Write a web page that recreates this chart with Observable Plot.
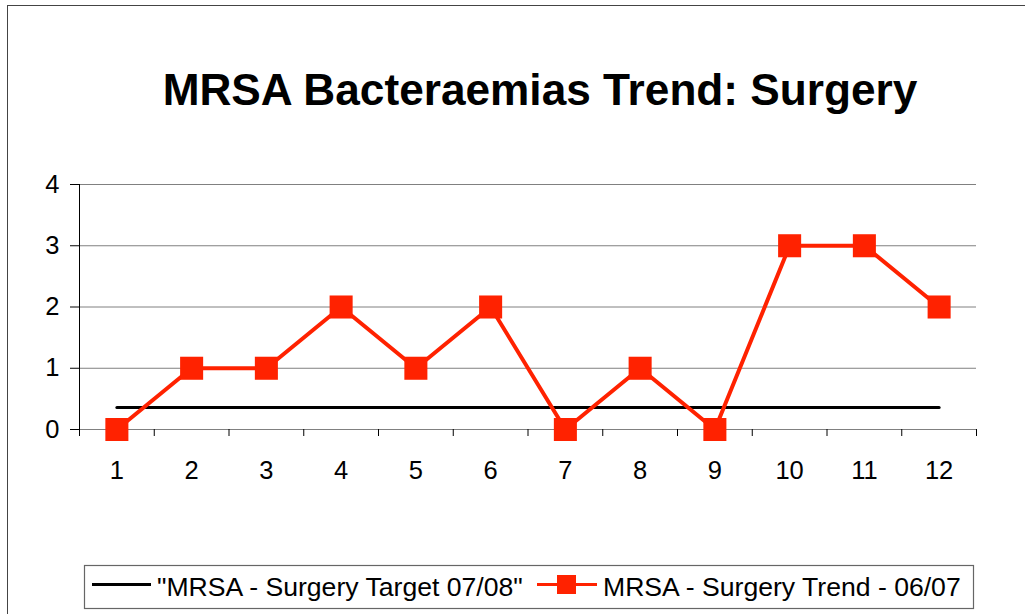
<!DOCTYPE html>
<html><head><meta charset="utf-8">
<script src="https://cdn.jsdelivr.net/npm/d3@7"></script>
<script src="https://cdn.jsdelivr.net/npm/@observablehq/plot@0.6"></script>
<style>
body{margin:0;background:#fff;font-family:"Liberation Sans",Arial,sans-serif;}
#wrap{position:relative;width:1025px;height:614px;overflow:hidden;background:#fff;}
#frame{position:absolute;left:7px;top:5px;width:1040px;height:640px;border:1.5px solid #444;box-sizing:border-box;}
#chart{position:absolute;left:0;top:0;}
#over{position:absolute;left:0;top:0;}
</style></head><body>
<div id="wrap"><div id="frame"></div><div id="chart"></div>
<svg id="over" width="1025" height="614" font-family="Liberation Sans, Arial, sans-serif"></svg>
</div>
<script>
const title = "MRSA Bacteraemias Trend: Surgery";
const months = [1,2,3,4,5,6,7,8,9,10,11,12];
const trend = [0,1,1,2,1,2,0,1,0,3,3,2];
const target = [0.36,0.36,0.36,0.36,0.36,0.36,0.36,0.36,0.36,0.36,0.36,0.36];
const yTicks = [0,1,2,3,4];
const seriesNames = ["\"MRSA - Surgery Target 07/08\"", "MRSA - Surgery Trend - 06/07"];
const RED = "#ff2200";

const trendData = months.map((m,i)=>({m, v: trend[i]}));
const targetData = months.map((m,i)=>({m, v: target[i]}));
const boundaries = months.map(m=>m-0.5).concat([months[months.length-1]+0.5]);

const chart = Plot.plot({
  width: 1025, height: 614,
  marginLeft: 79, marginRight: 49, marginTop: 184, marginBottom: 185,
  style: {fontFamily: "Liberation Sans, Arial, sans-serif", fontSize: "25.5px", background: "transparent", color: "black"},
  x: {type: "linear", domain: [boundaries[0], boundaries[boundaries.length-1]], axis: null},
  y: {domain: [0,4], axis: null},
  marks: [
    Plot.ruleY(yTicks.slice(1), {stroke: "#808080", strokeWidth: 1}),
    Plot.ruleY([0], {stroke: "#808080", strokeWidth: 1.2}),
    Plot.ruleX([boundaries[0]], {stroke: "black", strokeWidth: 1}),
    Plot.axisY({ticks: yTicks, tickSize: 9, tickPadding: 11, stroke: "black", tickFormat: d=>String(d), label: null}),
    Plot.axisX({ticks: boundaries, tickSize: 7, tickFormat: ()=>"", stroke: "black", label: null}),
    Plot.axisX({ticks: months, tickSize: 0, tickPadding: 31, tickFormat: d=>String(d), label: null}),
    Plot.line(targetData, {x: "m", y: "v", stroke: "black", strokeWidth: 3}),
    Plot.line(trendData, {x: "m", y: "v", stroke: RED, strokeWidth: 4}),
    Plot.dot(trendData, {x: "m", y: "v", symbol: "square", r: 13, fill: RED, stroke: "none"})
  ]
});
document.getElementById("chart").appendChild(chart);

const over = d3.select("#over");
over.append("text").attr("x", 540).attr("y", 105).attr("text-anchor","middle")
  .attr("font-size", 44.2).attr("font-weight","bold").text(title);
const lg = over.append("g");
lg.append("rect").attr("x",84.5).attr("y",565.5).attr("width",889).attr("height",43)
  .attr("fill","white").attr("stroke","#666").attr("stroke-width",1.2);
lg.append("line").attr("x1",92).attr("x2",151).attr("y1",584.5).attr("y2",584.5).attr("stroke","black").attr("stroke-width",3);
lg.append("text").attr("x",157).attr("y",596).attr("font-size",26.6).text(seriesNames[0]);
lg.append("line").attr("x1",537).attr("x2",597).attr("y1",584.5).attr("y2",584.5).attr("stroke",RED).attr("stroke-width",3);
lg.append("rect").attr("x",557).attr("y",575).attr("width",19).attr("height",19).attr("fill",RED);
lg.append("text").attr("x",603).attr("y",596).attr("font-size",26.6).text(seriesNames[1]);
</script>
</body></html>
